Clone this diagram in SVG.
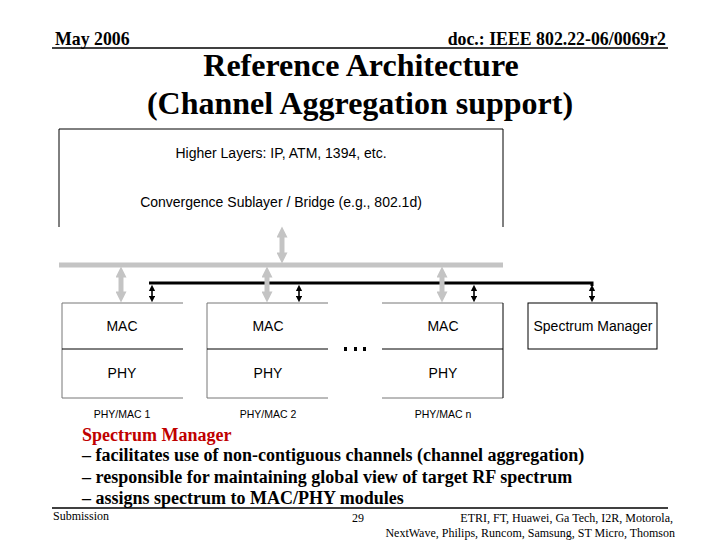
<svg xmlns="http://www.w3.org/2000/svg" width="720" height="540" viewBox="0 0 720 540">
<defs>
<style>
.ser{font-family:"Liberation Serif","Times New Roman",serif;}
.sans{font-family:"Liberation Sans",Arial,sans-serif;fill:#000;}
.hb{font-weight:bold;font-size:17.8px;}
.title{font-weight:bold;font-size:32px;text-anchor:middle;}
.body{font-weight:bold;font-size:18px;}
.foot{font-size:12px;}
.lbl{font-size:14px;text-anchor:middle;}
.sm{font-size:10.5px;text-anchor:middle;}
.edge{stroke:#000;stroke-width:1;fill:none;}
.gedge{stroke:#777;stroke-width:1;fill:none;}
.gbus{stroke:#c4c4c4;stroke-width:5;fill:none;}
.bbus{stroke:#000;stroke-width:3;fill:none;}
.garr{stroke:#c4c4c4;stroke-width:5;fill:none;marker-start:url(#gh);marker-end:url(#gh);}
.barr{stroke:#000;stroke-width:1.6;fill:none;marker-start:url(#bh);marker-end:url(#bh);}
</style>
<marker id="gh" viewBox="0 0 10 10" refX="5" refY="5" markerWidth="2.4" markerHeight="2.2" orient="auto-start-reverse" markerUnits="strokeWidth">
<path d="M0,0 L10,5 L0,10 z" fill="#c4c4c4"/>
</marker>
<marker id="bh" viewBox="0 0 10 10" refX="5" refY="5" markerWidth="4" markerHeight="4" orient="auto-start-reverse" markerUnits="strokeWidth">
<path d="M0,0 L10,5 L0,10 z" fill="#000"/>
</marker>
</defs>
<rect width="720" height="540" fill="#fff"/>

<g id="header">
<text class="ser hb" x="55" y="45">May 2006</text>
<text class="ser hb" x="666" y="45" text-anchor="end">doc.: IEEE 802.22-06/0069r2</text>
<line x1="52" y1="48" x2="668" y2="48" stroke="#000" stroke-width="1.5"/>
<text class="ser title" x="361" y="76">Reference Architecture</text>
<text class="ser title" x="360" y="114">(Channel Aggregation support)</text>
</g>

<g id="upper-layers">
<path class="edge" d="M59,227 V129 H503 V227"/>
<text class="sans lbl" x="281" y="158">Higher Layers: IP, ATM, 1394, etc.</text>
<text class="sans lbl" x="281" y="207">Convergence Sublayer / Bridge (e.g., 802.1d)</text>
</g>

<g id="connectors">
<line class="gbus" x1="59" y1="265" x2="503" y2="265"/>
<path class="bbus" d="M149,283 H592 V286"/>
<line class="garr" x1="282" y1="232" x2="282" y2="258"/>
<line class="garr" x1="121" y1="272" x2="121" y2="297"/>
<line class="garr" x1="267" y1="272" x2="267" y2="297"/>
<line class="garr" x1="442" y1="272" x2="442" y2="297"/>
<line class="barr" x1="152" y1="288" x2="152" y2="299"/>
<line class="barr" x1="299" y1="288" x2="299" y2="299"/>
<line class="barr" x1="474" y1="288" x2="474" y2="299"/>
<line class="barr" x1="592" y1="288" x2="592" y2="299"/>
</g>

<g id="phymac1">
<path class="gedge" d="M183,303 H62 V398 H183"/>
<line class="edge" x1="62" y1="349" x2="183" y2="349"/>
<text class="sans lbl" x="122" y="331">MAC</text>
<text class="sans lbl" x="122" y="378">PHY</text>
<text class="sans sm" x="122" y="418">PHY/MAC 1</text>
</g>

<g id="phymac2">
<path class="gedge" d="M328,303 H207 V398 H328"/>
<line class="edge" x1="207" y1="349" x2="328" y2="349"/>
<text class="sans lbl" x="268" y="331">MAC</text>
<text class="sans lbl" x="268" y="378">PHY</text>
<text class="sans sm" x="268" y="418">PHY/MAC 2</text>
</g>

<g id="ellipsis">
<rect x="344" y="347" width="3" height="4" fill="#000"/>
<rect x="354" y="347" width="3" height="4" fill="#000"/>
<rect x="363" y="347" width="3" height="4" fill="#000"/>
</g>

<g id="phymacn">
<path class="gedge" d="M382,303 H503"/>
<path class="gedge" d="M382,398 H503"/>
<line class="edge" x1="503" y1="303" x2="503" y2="398"/>
<line class="edge" x1="382" y1="349" x2="503" y2="349"/>
<text class="sans lbl" x="443" y="331">MAC</text>
<text class="sans lbl" x="443" y="378">PHY</text>
<text class="sans sm" x="443" y="418">PHY/MAC n</text>
</g>

<g id="spectrum-manager">
<rect class="edge" x="528" y="303" width="129" height="46"/>
<text class="sans lbl" x="593" y="331">Spectrum Manager</text>
</g>

<g id="notes">
<text class="ser body" x="82" y="441" fill="#c00000">Spectrum Manager</text>
<text class="ser body" x="82" y="461">– facilitates use of non-contiguous channels (channel aggregation)</text>
<text class="ser body" x="82" y="483">– responsible for maintaining global view of target RF spectrum</text>
<text class="ser body" x="82" y="504">– assigns spectrum to MAC/PHY modules</text>
</g>

<g id="footer">
<line x1="52" y1="508" x2="668" y2="508" stroke="#000" stroke-width="1.5"/>
<text class="ser foot" x="53" y="520">Submission</text>
<text class="ser foot" x="352" y="522">29</text>
<text class="ser foot" x="673" y="522" text-anchor="end">ETRI, FT, Huawei, Ga Tech, I2R, Motorola,</text>
<text class="ser foot" x="675" y="537" text-anchor="end">NextWave, Philips, Runcom, Samsung, ST Micro, Thomson</text>
</g>
</svg>
